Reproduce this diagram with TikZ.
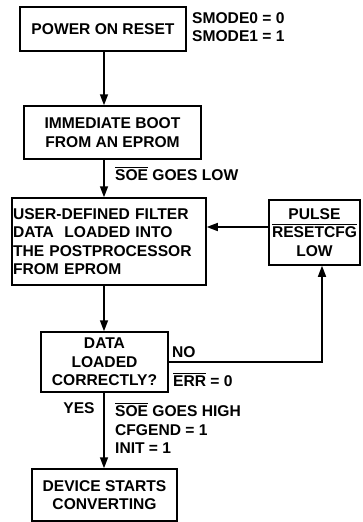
\documentclass[tikz,border=0pt]{standalone}
\usepackage{fontspec}
\setmainfont{Liberation Sans}
\usetikzlibrary{arrows.meta,calc,positioning}
\newcommand{\ovl}[1]{\setbox0\hbox{#1}\rlap{\rule[\dimexpr\ht0+1.6pt\relax]{\wd0}{0.9pt}}\box0\relax}

\begin{document}
\begin{tikzpicture}[x=1pt,y=-1pt,
  font=\fontsize{15.6}{18.5}\selectfont\bfseries,
  flowbox/.style={draw,line width=1.5pt,inner sep=0pt,align=center},
  arr/.style={line width=1.5pt,-{Triangle[length=11pt,width=8pt]}},
  lbl/.style={inner sep=0pt,anchor=west,align=left}]
\useasboundingbox (0,0) rectangle (362,522);
% boxes
\node[flowbox,minimum width=166pt,minimum height=44pt] (pwr) at (103,29) {POWER ON RESET};
\node[flowbox,minimum width=177pt,minimum height=53pt] (boot) at (112.5,132.5) {IMMEDIATE BOOT\\FROM AN EPROM};
\node[flowbox,minimum width=194pt,minimum height=87pt,align=left,text width=192pt] (load) at (109,241.5) {USER-DEFINED FILTER\\DATA\ \ LOADED INTO\\THE POSTPROCESSOR\\FROM EPROM};
\node[flowbox,minimum width=91pt,minimum height=65pt] (pulse) at (314.5,232.5) {PULSE\\\ovl{RESETCFG}\\LOW};
\node[flowbox,minimum width=127pt,minimum height=60pt] (chk) at (104.5,362) {DATA\\LOADED\\CORRECTLY?};
\node[flowbox,minimum width=145pt,minimum height=52pt] (dev) at (104.5,495) {DEVICE STARTS\\CONVERTING};
\coordinate (spine) at (104,0);
% labels
\node[lbl] (smode) at (192,27) {SMODE0 = 0\\SMODE1 = 1};
\node[lbl] (soelow) at (115,174) {\ovl{SOE} GOES LOW};
\node[lbl] (no) at (172,352) {NO};
\node[lbl] (err) at (173,380) {\ovl{ERR} = 0};
\node[inner sep=0pt] (yes) at (79,408) {YES};
\node[lbl] (soehigh) at (115,428.5) {\ovl{SOE} GOES HIGH\\CFGEND = 1\\INIT = 1};
% connectors
\draw[arr] (pwr.south -| spine) -- (boot.north -| spine);
\draw[arr] (boot.south -| spine) -- (load.north -| spine);
\draw[arr] (load.south -| spine) -- (chk.north -| spine);
\draw[arr] (chk.south -| spine) -- (dev.north -| spine);
\draw[arr] ([yshift=5.5pt]pulse.west) -- ([yshift=5.5pt]pulse.west -| load.east);
\draw[arr] (chk.east) -| ([xshift=7.5pt]pulse.south);
\end{tikzpicture}
\end{document}
